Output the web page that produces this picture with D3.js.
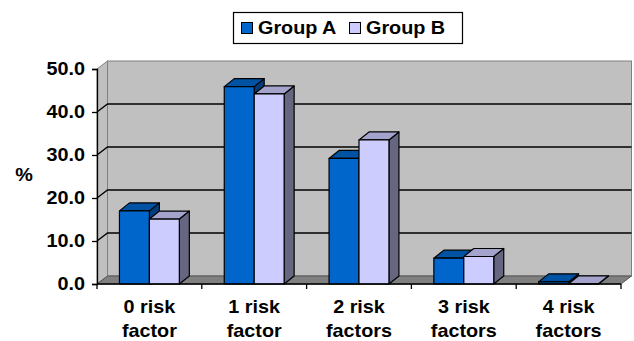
<!DOCTYPE html>
<html>
<head>
<meta charset="utf-8">
<script src="https://cdn.jsdelivr.net/npm/d3@7"></script>
<style>
  html, body { margin: 0; padding: 0; background: #fff; }
  svg { display: block; }
  text { font-family: "Liberation Sans", Arial, sans-serif; font-weight: bold; fill: #000; }
</style>
</head>
<body>
<svg id="chart" width="634" height="341"></svg>
<script>
// Share of people by number of risk factors (%)
const categories = ["0 risk|factor", "1 risk|factor", "2 risk|factors", "3 risk|factors", "4 risk|factors"];
const groups = ["Group A", "Group B"];
const groupA = [17.0, 45.9, 29.2, 6.0, 0.5];
const groupB = [15.1, 44.2, 33.5, 6.4, 0.05];
const yTicks = [0, 10, 20, 30, 40, 50];

const colors = {
  "Group A": { front: "#0066CC", top: "#0052A3", side: "#003D7A" },
  "Group B": { front: "#CCCCFF", top: "#A3A3CC", side: "#666680" }
};

const svg = d3.select("#chart");
const plotL = 97, plotR = 621, plotB = 284, plotT = 69;
const wallDx = 10.5, wallDy = -8; // depth offset of the back wall
const barDx = 10, barDy = -8;     // depth offset of each column
const fs = 18;                    // label font size
const sx = 1.1;                   // horizontal stretch of the type

const x0 = d3.scaleBand().domain(categories).range([plotL, plotR]).padding(0);
const x1 = d3.scaleBand().domain(groups).range([0, x0.bandwidth()]).paddingInner(0).paddingOuter(0.75);
const y = d3.scaleLinear().domain([0, 50]).range([plotB, plotT]);

const pts = p => p.map(d => d.join(",")).join(" ");

// Side wall and back wall
svg.append("polygon")
  .attr("points", pts([[plotL, y(50)], [plotL + wallDx, y(50) + wallDy], [plotL + wallDx, y(0) + wallDy], [plotL, y(0)]]))
  .attr("fill", "#C0C0C0").attr("stroke", "#808080").attr("stroke-width", 1);
svg.append("rect")
  .attr("x", plotL + wallDx).attr("y", y(50) + wallDy)
  .attr("width", plotR - plotL).attr("height", y(0) - y(50))
  .attr("fill", "#C0C0C0").attr("stroke", "#808080").attr("stroke-width", 1);

// Gridlines running across side wall and back wall
svg.append("g").selectAll("polyline")
  .data(yTicks.filter(t => t > 0 && t < 50))
  .join("polyline")
  .attr("points", t => pts([[plotL, y(t)], [plotL + wallDx, y(t) + wallDy], [plotR + wallDx, y(t) + wallDy]]))
  .attr("fill", "none").attr("stroke", "#000").attr("stroke-width", 1.3);

// Floor
svg.append("polygon")
  .attr("points", pts([[plotL, y(0)], [plotL + wallDx, y(0) + wallDy], [plotR + wallDx, y(0) + wallDy], [plotR, y(0)]]))
  .attr("fill", "#808080").attr("stroke", "#555").attr("stroke-width", 1);

// Columns
const rows = categories.map((c, i) => ({ c, vals: [groupA[i], groupB[i]] }));
const bars = svg.append("g");
rows.forEach(r => {
  groups.forEach((g, gi) => {
    const v = r.vals[gi];
    const bx = x0(r.c) + x1(g), bw = x1.bandwidth();
    const by = y(v), b0 = y(0);
    const col = colors[g];
    const grp = bars.append("g").attr("stroke", "#000").attr("stroke-width", 1.2).attr("stroke-linejoin", "round");
    grp.append("polygon")
      .attr("points", pts([[bx + bw, by], [bx + bw + barDx, by + barDy], [bx + bw + barDx, b0 + barDy], [bx + bw, b0]]))
      .attr("fill", col.side);
    grp.append("polygon")
      .attr("points", pts([[bx, by], [bx + barDx, by + barDy], [bx + bw + barDx, by + barDy], [bx + bw, by]]))
      .attr("fill", col.top);
    grp.append("rect")
      .attr("x", bx).attr("y", by).attr("width", bw).attr("height", Math.max(0, b0 - by))
      .attr("fill", col.front);
  });
});

// Y axis
const yAxis = svg.append("g").attr("transform", `translate(${plotL},0)`)
  .call(d3.axisLeft(y).tickValues(yTicks).tickFormat(d3.format(".1f")).tickSize(5).tickPadding(7));
yAxis.attr("font-family", null).attr("font-size", null);
yAxis.select(".domain").attr("stroke", "#000").attr("stroke-width", 1.3);
yAxis.selectAll(".tick line").attr("stroke", "#000").attr("stroke-width", 1.3);
yAxis.selectAll(".tick text")
  .attr("font-size", fs).attr("fill", "#000")
  .each(function () {
    const t = d3.select(this);
    const xx = +t.attr("x");
    t.attr("x", null).attr("transform", `translate(${xx},0) scale(${sx},1)`);
  });

// X axis
svg.append("line")
  .attr("x1", plotL).attr("x2", plotR).attr("y1", plotB).attr("y2", plotB)
  .attr("stroke", "#000").attr("stroke-width", 1.3);
const edges = categories.map(c => x0(c)).concat([plotR]);
svg.append("g").selectAll("line").data(edges).join("line")
  .attr("x1", d => d).attr("x2", d => d).attr("y1", plotB).attr("y2", plotB + 5)
  .attr("stroke", "#000").attr("stroke-width", 1.3);

const xl = svg.append("g").selectAll("g").data(categories).join("g")
  .attr("transform", c => `translate(${x0(c) + x0.bandwidth() / 2},0)`);
xl.each(function (c) {
  const lines = c.split("|");
  lines.forEach((ln, i) => {
    d3.select(this).append("text")
      .attr("transform", `translate(0,${313 + i * 24}) scale(${sx},1)`)
      .attr("text-anchor", "middle").attr("font-size", fs).text(ln);
  });
});

// Y axis title
svg.append("text").attr("transform", `translate(24,181) scale(${sx},1)`)
  .attr("text-anchor", "middle").attr("font-size", fs).text("%");

// Legend
const lg = svg.append("g");
lg.append("rect").attr("x", 233.5).attr("y", 12.5).attr("width", 229).attr("height", 31)
  .attr("fill", "#fff").attr("stroke", "#000").attr("stroke-width", 1.2);
const legendPos = [{ sq: 241, tx: 258 }, { sq: 349, tx: 366 }];
groups.forEach((g, i) => {
  lg.append("rect").attr("x", legendPos[i].sq + 0.5).attr("y", 22.5).attr("width", 11).attr("height", 11)
    .attr("fill", colors[g].front).attr("stroke", "#000").attr("stroke-width", 1);
  lg.append("text").attr("transform", `translate(${legendPos[i].tx},34) scale(${sx},1)`)
    .attr("font-size", fs).text(g);
});
</script>
</body>
</html>
